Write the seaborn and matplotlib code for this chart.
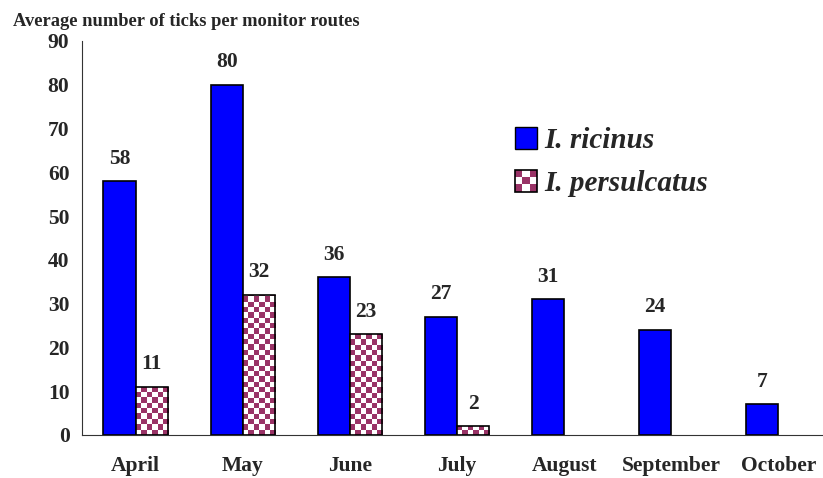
import numpy as np
import pandas as pd
import matplotlib
matplotlib.use('Agg')
import matplotlib.pyplot as plt
import seaborn as sns
from matplotlib.colors import ListedColormap
from matplotlib.patches import Rectangle, Patch
from matplotlib.legend_handler import HandlerBase

months = ['April', 'May', 'June', 'July', 'August', 'September', 'October']
ricinus = [58, 80, 36, 27, 31, 24, 7]
persulcatus = [11, 32, 23, 2, np.nan, np.nan, np.nan]
species = ['I. ricinus', 'I. persulcatus']

BLUE = '#0000FF'
MAROON = '#993366'


class CheckerHandler(HandlerBase):
    # small checkerboard square for the legend
    def create_artists(self, legend, orig_handle, xdescent, ydescent,
                       width, height, fontsize, trans):
        arts = []
        n = 3
        cw, ch = width / n, height / n
        for i in range(n):
            for j in range(n):
                if (i + j) % 2 == 0:
                    arts.append(Rectangle((-xdescent + i * cw, -ydescent + j * ch), cw, ch,
                                          fc=MAROON, ec='none', transform=trans))
        arts.append(Rectangle((-xdescent, -ydescent), width, height, fc='none',
                              ec='black', lw=1.2, transform=trans))
        return arts


def checker_fill(ax, patch):
    x, y = patch.get_x(), patch.get_y()
    w, h = patch.get_width(), patch.get_height()
    ncol = 6
    dy = 1.21
    nrow = int(np.ceil(h / dy))
    grid = np.indices((nrow, ncol)).sum(axis=0) % 2
    im = ax.imshow(grid, cmap=ListedColormap(['white', MAROON]), origin='lower',
                   extent=(x, x + w, y, y + nrow * dy), aspect='auto',
                   interpolation='nearest', zorder=2.5)
    im.set_clip_path(patch)
    patch.set_facecolor('none')
    patch.set_zorder(3)


def main():
    sns.set_style('white')
    plt.rcParams['font.family'] = ['Liberation Serif', 'DejaVu Serif']
    plt.rcParams['font.weight'] = 'bold'

    df = pd.DataFrame({
        'month': months * 2,
        'species': [species[0]] * len(months) + [species[1]] * len(months),
        'count': ricinus + persulcatus,
    })

    fig = plt.figure(figsize=(8.23, 4.78), dpi=100)
    ax = fig.add_axes([82 / 823, 1 - 435 / 478, (832 - 82) / 823, (435 - 41) / 478])

    sns.barplot(ax=ax, data=df, x='month', y='count', hue='species', order=months,
                hue_order=species, palette=[BLUE, 'white'], width=0.6,
                edgecolor='black', linewidth=1.2, saturation=1, legend=False)

    for patch in ax.containers[1]:
        if np.isfinite(patch.get_height()) and patch.get_height() > 0:
            checker_fill(ax, patch)

    for cont in ax.containers:
        labels = ['' if not np.isfinite(v) else '%d' % v for v in cont.datavalues]
        ax.bar_label(cont, labels=labels, padding=9, fontsize=15.5, fontweight='bold')

    ax.set_xlim(-0.5, 6.5)
    ax.set_ylim(0, 90)
    ax.set_yticks(range(0, 91, 10))
    ax.set_xlabel('')
    ax.set_ylabel('')
    sns.despine(ax=ax)
    ax.spines['left'].set_color('#333333')
    ax.spines['bottom'].set_color('#333333')
    ax.set_xticks(np.arange(-0.5, 7, 1), minor=True)
    ax.tick_params(axis='x', which='major', length=0, pad=15, labelsize=15.5)
    ax.tick_params(axis='x', which='minor', length=5, direction='out', color='#333333')
    ax.tick_params(axis='y', length=5, direction='out', labelsize=15.5, color='#333333', pad=4)
    for lab in ax.get_xticklabels() + ax.get_yticklabels():
        lab.set_fontweight('bold')

    handles = [Patch(facecolor=BLUE, edgecolor='black'), Patch(facecolor='white')]
    fig.legend(handles, species, loc='upper left',
               bbox_to_anchor=(515 / 823, 1 - 127 / 478),
               handler_map={handles[1]: CheckerHandler()},
               frameon=False, borderpad=0, borderaxespad=0,
               handlelength=0.75, handleheight=0.75, handletextpad=0.25,
               labelspacing=0.55,
               prop={'family': 'Liberation Serif', 'weight': 'bold',
                     'style': 'italic', 'size': 21})

    fig.text(13 / 823, 1 - 22 / 478, 'Average number of ticks per monitor routes',
             fontsize=13.3, fontweight='bold', va='center', ha='left')

    fig.savefig('out.png', dpi=100)


if __name__ == "__main__":
    main()
